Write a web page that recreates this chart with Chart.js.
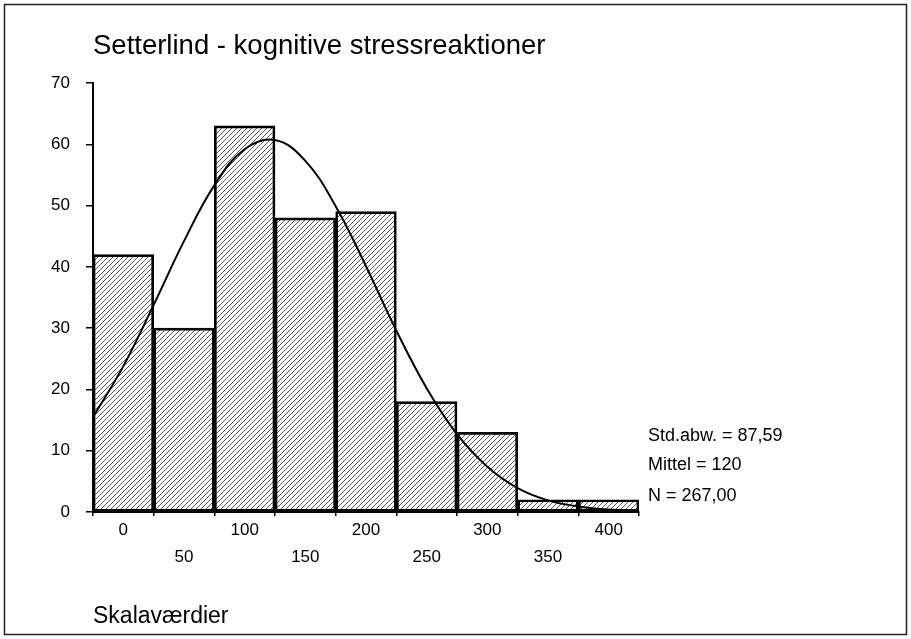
<!DOCTYPE html>
<html>
<head>
<meta charset="utf-8">
<title>Setterlind - kognitive stressreaktioner</title>
<script src="https://cdn.jsdelivr.net/npm/chart.js@4/dist/chart.umd.min.js"></script>
<style>
  html, body { margin: 0; padding: 0; background: #fff; }
  #chart { display: block; }
</style>
</head>
<body>
<canvas id="chart" width="911" height="639"></canvas>
<script>
// --- data ---
const binCenters = [0, 50, 100, 150, 200, 250, 300, 350, 400];
const binCounts = [42, 30, 63, 48, 49, 18, 13, 2, 2];

// fitted normal curve
const curveX = [-25, 0, 25, 50, 75, 100, 125, 150, 175, 200, 225, 250, 275, 300, 325, 350, 375, 400, 425];
const curveY = [15.5, 23.8, 33.8, 44.2, 53.3, 59.2, 60.7, 57.3, 49.9, 40.1, 29.6, 20.2, 12.7, 7.4, 3.9, 1.9, 0.9, 0.4, 0.15];

const xTickValues = [0, 50, 100, 150, 200, 250, 300, 350, 400];
const yTickValues = [0, 10, 20, 30, 40, 50, 60, 70];

const chartTitle = 'Setterlind - kognitive stressreaktioner';
const axisTitle = 'Skalaværdier';
const statLines = ['Std.abw. = 87,59', 'Mittel = 120', 'N = 267,00'];

const FONT = '"Liberation Sans", Arial, Helvetica, sans-serif';

// diagonal hatch used for the bars
function makeHatch() {
    const size = 5;
    const c = document.createElement('canvas');
    c.width = size;
    c.height = size;
    const g = c.getContext('2d');
    g.strokeStyle = '#111';
    g.lineWidth = 0.7;
    g.beginPath();
    g.moveTo(0, size); g.lineTo(size, 0);
    g.moveTo(-1, 1); g.lineTo(1, -1);
    g.moveTo(size - 1, size + 1); g.lineTo(size + 1, size - 1);
    g.stroke();
    return g.createPattern(c, 'repeat');
}

// title, stats block, axis caption and outer frame
const decorations = {
    id: 'decorations',
    afterDraw(chart) {
        const ctx = chart.ctx;
        ctx.save();
        ctx.strokeStyle = '#222';
        ctx.lineWidth = 1.5;
        ctx.strokeRect(4.5, 4.5, 902, 630);

        ctx.fillStyle = '#000';
        ctx.textAlign = 'left';
        ctx.textBaseline = 'alphabetic';
        ctx.font = '27.5px ' + FONT;
        ctx.fillText(chartTitle, 93, 54);

        ctx.textBaseline = 'middle';
        ctx.font = '18px ' + FONT;
        const statY = [436, 465, 496];
        statLines.forEach(function (t, i) {
            ctx.fillText(t, 648, statY[i]);
        });

        ctx.font = '23px ' + FONT;
        ctx.fillText(axisTitle, 93, 617);
        ctx.restore();
    }
};

const ctx = document.getElementById('chart').getContext('2d');

new Chart(ctx, {
    type: 'bar',
    data: {
        datasets: [
            {
                type: 'line',
                data: curveX.map(function (x, i) { return { x: x, y: curveY[i] }; }),
                borderColor: '#000',
                borderWidth: 2,
                pointRadius: 0,
                fill: false,
                tension: 0.4,
                order: 0
            },
            {
                type: 'bar',
                data: binCenters.map(function (x, i) { return { x: x, y: binCounts[i] }; }),
                backgroundColor: makeHatch(),
                borderColor: '#000',
                borderWidth: 2,
                borderSkipped: false,
                barPercentage: 1,
                categoryPercentage: 1,
                order: 1
            }
        ]
    },
    options: {
        responsive: false,
        animation: false,
        events: [],
        layout: { padding: { left: 0, top: 83, right: 272, bottom: 0 } },
        plugins: {
            legend: { display: false },
            tooltip: { enabled: false },
            title: { display: false }
        },
        scales: {
            x: {
                type: 'linear',
                min: -25,
                max: 425,
                offset: false,
                afterBuildTicks: function (axis) {
                    axis.ticks = xTickValues.map(function (v) { return { value: v }; });
                },
                afterFit: function (axis) { axis.height = 127; },
                grid: {
                    drawOnChartArea: false,
                    drawTicks: true,
                    tickLength: 4,
                    color: '#000',
                    lineWidth: 1.5
                },
                border: { color: '#000', width: 2 },
                ticks: {
                    autoSkip: false,
                    maxRotation: 0,
                    padding: 1,
                    color: '#000',
                    font: { family: FONT, size: 17, lineHeight: 1.6 },
                    callback: function (value, index) {
                        // labels alternate between two rows
                        return index % 2 === 0 ? [String(value)] : ['', String(value)];
                    }
                }
            },
            y: {
                min: 0,
                max: 70,
                afterBuildTicks: function (axis) {
                    axis.ticks = yTickValues.map(function (v) { return { value: v }; });
                },
                afterFit: function (axis) { axis.width = 93; },
                grid: {
                    drawOnChartArea: false,
                    drawTicks: true,
                    tickLength: 7,
                    color: '#000',
                    lineWidth: 1.5
                },
                border: { color: '#000', width: 2 },
                ticks: {
                    padding: 16,
                    color: '#000',
                    font: { family: FONT, size: 17 }
                }
            }
        }
    },
    plugins: [decorations]
});
</script>
</body>
</html>
